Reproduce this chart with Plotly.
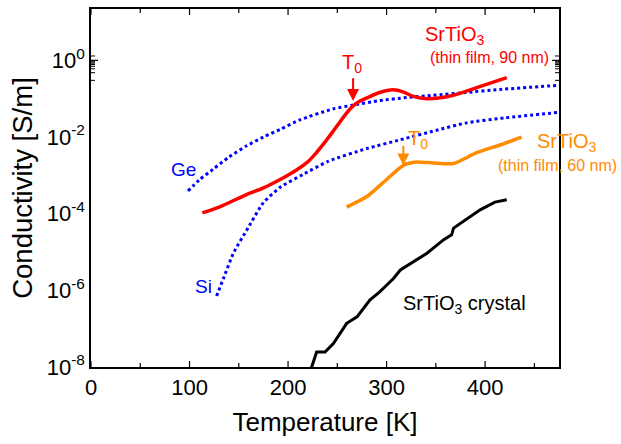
import math
import plotly.graph_objects as go

# ---- data (temperature in K, conductivity in S/m) ----
ge_T = [98.4, 110, 124, 140, 158, 175, 192, 212, 245.5, 266, 293, 320, 347, 380, 415, 475]
ge_s = [3.9e-4, 7.6e-4, 1.45e-3, 3.0e-3, 5.9e-3, 1.0e-2, 1.58e-2, 2.8e-2, 5.4e-2,
        6.8e-2, 8.9e-2, 0.107, 0.123, 0.145, 0.174, 0.224]

si_T = [127.5, 135, 144.5, 159.5, 174.7, 191.7, 215, 241, 280, 314, 350, 381, 420, 475]
si_s = [7.1e-7, 2.24e-6, 9.3e-6, 4.3e-5, 1.9e-4, 4.8e-4, 1.05e-3, 2.34e-3, 5.0e-3,
        8.5e-3, 1.48e-2, 2.34e-2, 3.16e-2, 4.4e-2]

f90_T = [113, 130, 158, 175, 192, 205, 219, 228, 236, 244, 252, 259, 266, 273, 280, 293,
         306.5, 316.7, 327, 341, 364.5, 391.5, 422]
f90_s = [1.05e-4, 1.48e-4, 3.16e-4, 4.7e-4, 7.8e-4, 1.2e-3, 2.14e-3, 3.7e-3, 6.6e-3,
         1.23e-2, 2.34e-2, 4.1e-2, 6.5e-2, 8.7e-2, 0.105, 0.145, 0.17, 0.151, 0.115,
         0.1, 0.117, 0.195, 0.355]

f60_T = [259.5, 280, 300, 317, 330.5, 347.5, 368, 391.5, 415, 437]
f60_s = [1.48e-4, 2.8e-4, 7.8e-4, 1.82e-3, 2.24e-3, 2.1e-3, 2.04e-3, 3.9e-3, 6.2e-3, 1.0e-2]

xtal_T = [222, 224, 229, 237.5, 246, 259.5, 270, 283, 293, 307, 314, 327, 341, 358,
          366, 368, 378, 395, 410, 422]
xtal_s = [7.9e-9, 1.0e-8, 2.45e-8, 2.45e-8, 4.1e-8, 1.38e-7, 2.04e-7, 5.6e-7, 9.1e-7,
          2.04e-6, 3.4e-6, 5.6e-6, 9.3e-6, 2.1e-5, 2.8e-5, 4.2e-5, 6.3e-5, 1.26e-4,
          2.0e-4, 2.3e-4]

x_ticks = [0, 100, 200, 300, 400]
x_minor = [50, 150, 250, 350, 450]
y_exps = list(range(-8, 2))
y_ticks = [10.0 ** e for e in y_exps]
y_labels = [("10<sup>%d</sup>" % e) if e % 2 == 0 else "" for e in y_exps]
y_minor = [k * 10.0 ** e for e in range(-8, 2) for k in range(2, 10)]

RED = "#ff0000"
ORANGE = "#ff8c00"
BLUE = "#0000ff"
FONT = "Liberation Sans, Arial, sans-serif"
Y_RANGE = [-8, 1.34]
X_RANGE = [0, 475]

fig = go.Figure()
fig.add_trace(go.Scatter(x=ge_T, y=ge_s, mode="lines",
                         line=dict(color=BLUE, width=3, dash="dot", shape="spline", smoothing=0.6)))
fig.add_trace(go.Scatter(x=si_T, y=si_s, mode="lines",
                         line=dict(color=BLUE, width=3, dash="dot", shape="spline", smoothing=0.6)))
fig.add_trace(go.Scatter(x=f90_T, y=f90_s, mode="lines",
                         line=dict(color=RED, width=3.5, shape="spline", smoothing=0.8)))
fig.add_trace(go.Scatter(x=f60_T, y=f60_s, mode="lines",
                         line=dict(color=ORANGE, width=3.5, shape="spline", smoothing=0.6)))
fig.add_trace(go.Scatter(x=xtal_T, y=xtal_s, mode="lines",
                         line=dict(color="black", width=3)))

def txt(x, y, s, color, size, xref="x"):
    fig.add_annotation(x=x, y=y, xref=xref, yref="y", text=s, showarrow=False,
                       xanchor="center", yanchor="middle",
                       font=dict(color=color, size=size, family=FONT))

def arrow(x, y0, y1, color):
    fig.add_annotation(x=x, y=y1, ax=x, ay=y0, xref="x", yref="y", axref="x", ayref="y",
                       text="", showarrow=True, arrowhead=2, arrowsize=1.2,
                       arrowwidth=2, arrowcolor=color)

txt(368.6, 0.64, "SrTiO<sub>3</sub>", RED, 20)
txt(404, 0.066, "(thin film, 90 nm)", RED, 16)
txt(265, -0.09, "T<sub>0</sub>", RED, 20)
arrow(266, -0.43, -1.06, RED)

txt(1.0156, -2.14, "SrTiO<sub>3</sub>", ORANGE, 20, xref="paper")
txt(0.9962, -2.74, "(thin film, 60 nm)", ORANGE, 16, xref="paper")
txt(332, -2.06, "T<sub>0</sub>", ORANGE, 20)
arrow(317, -2.19, -2.74, ORANGE)

txt(94, -2.84, "Ge", BLUE, 19)
txt(114.4, -5.91, "Si", BLUE, 19)
txt(378.7, -6.38, "SrTiO<sub>3</sub> crystal", "black", 20)

# ---- inward tick marks on all four sides (placed on the axis scales) ----
PLOT_W, PLOT_H = 468.0, 358.0

def ytick(v, length_px, width):
    e = math.log10(v)
    if e < Y_RANGE[0] - 1e-9 or e > Y_RANGE[1]:
        return
    d = length_px / PLOT_W
    for x0, x1 in ((0, d), (1 - d, 1)):
        fig.add_shape(type="line", xref="x domain", yref="y", x0=x0, x1=x1, y0=e, y1=e,
                      line=dict(color="black", width=width), layer="above")

def xtick(v, length_px, width):
    d = length_px / PLOT_H
    for y0, y1 in ((0, d), (1 - d, 1)):
        fig.add_shape(type="line", xref="x", yref="y domain", x0=v, x1=v, y0=y0, y1=y1,
                      line=dict(color="black", width=width), layer="above")

for v in y_ticks:
    ytick(v, 7, 1.2)
for v in y_minor:
    ytick(v, 4, 1)
for v in x_ticks:
    xtick(v, 6, 1.2)
for v in x_minor:
    xtick(v, 4, 1.2)

fig.update_layout(
    width=621, height=444,
    margin=dict(l=91, r=62, t=9, b=77),
    paper_bgcolor="white", plot_bgcolor="white",
    showlegend=False,
    font=dict(family=FONT, color="black"),
    xaxis=dict(
        range=X_RANGE, showgrid=False, zeroline=False, automargin=False,
        showline=True, linecolor="black", linewidth=1.5, mirror=True, ticks="",
        tickmode="array", tickvals=x_ticks, ticktext=[str(v) for v in x_ticks],
        tickfont=dict(size=22, family=FONT),
        title=dict(text="Temperature [K]", font=dict(size=26, family=FONT), standoff=14),
    ),
    yaxis=dict(
        type="log", range=Y_RANGE, showgrid=False, zeroline=False, automargin=False,
        showline=True, linecolor="black", linewidth=1.5, mirror=True, ticks="",
        tickmode="array", tickvals=y_ticks, ticktext=y_labels,
        tickfont=dict(size=22, family=FONT),
        title=dict(text="Conductivity [S/m]", font=dict(size=27.5, family=FONT), standoff=6),
    ),
)

fig.write_html("out.html", config={"displayModeBar": False},
               post_script="document.body.style.margin='0px';")
